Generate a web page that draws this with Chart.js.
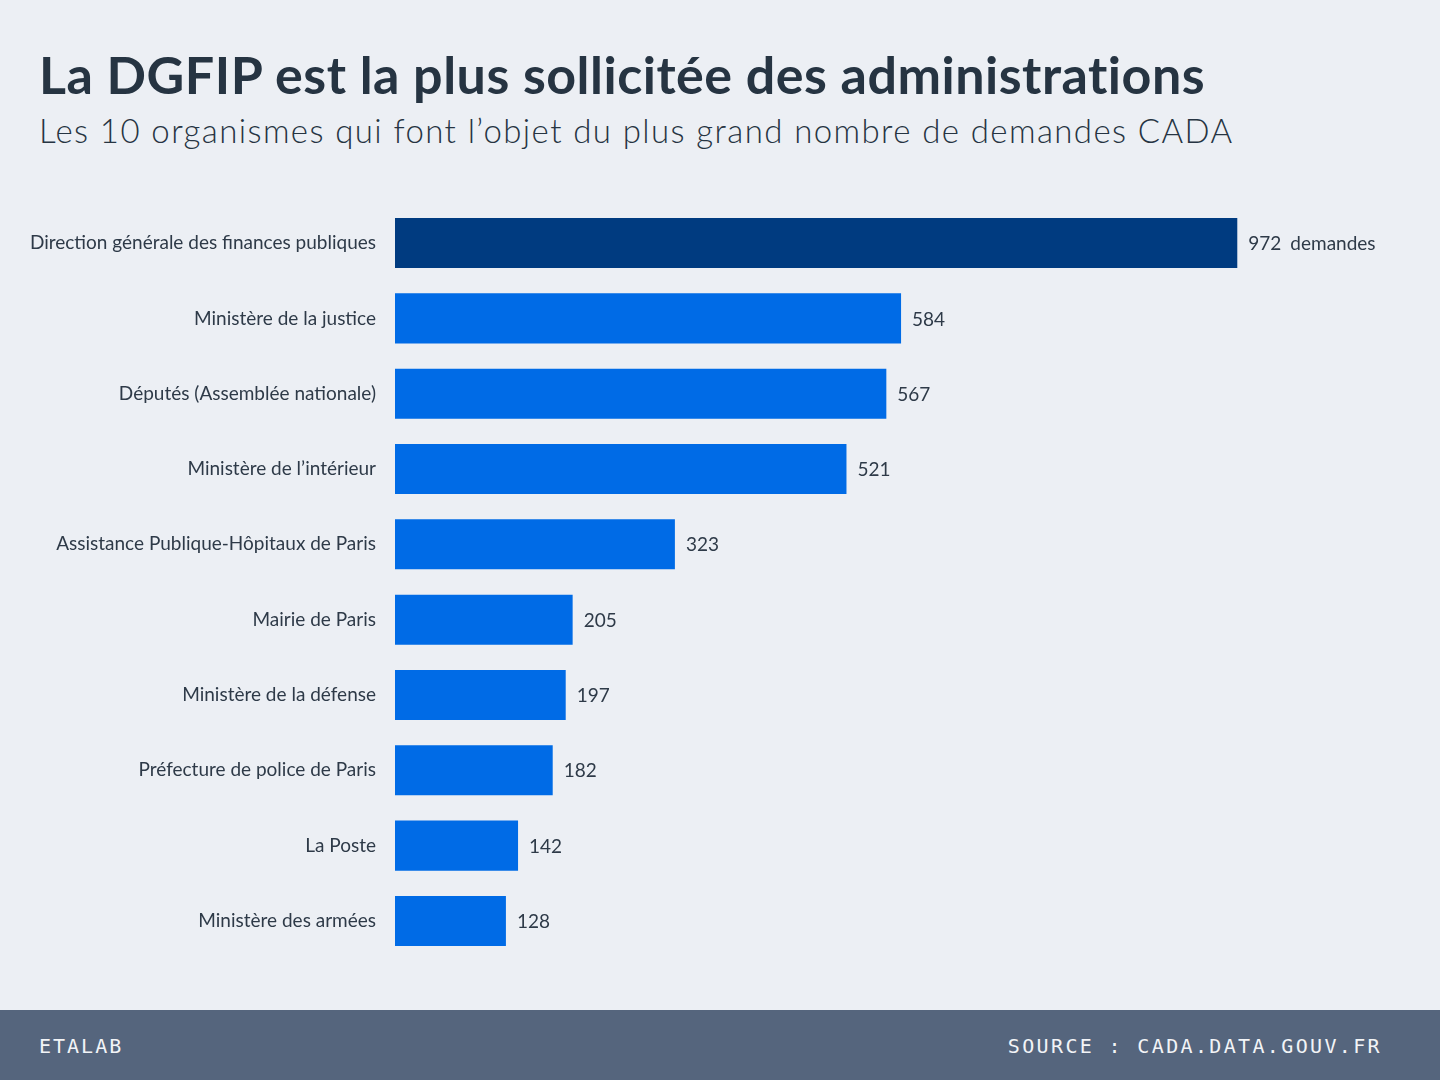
<!DOCTYPE html>
<html lang="fr">
<head>
<meta charset="utf-8">
<title>Demandes CADA par organisme</title>
<script src="https://cdn.jsdelivr.net/npm/chart.js@4"></script>
<style>
    html, body {
        margin: 0;
        padding: 0;
        width: 1440px;
        height: 1080px;
        background: #eceff4;
        overflow: hidden;
        font-family: Lato, "Noto Sans", sans-serif;
    }
    #title {
        position: absolute;
        left: 39px;
        top: 43px;
        font-size: 52px;
        font-weight: 700;
        letter-spacing: 0.5px;
        color: #263442;
        white-space: nowrap;
    }
    #subtitle {
        position: absolute;
        left: 39px;
        top: 110px;
        font-size: 33px;
        font-weight: 300;
        letter-spacing: 1.4px;
        color: #263442;
        white-space: nowrap;
    }
    #chartBox {
        position: absolute;
        left: 0;
        top: 175px;
        width: 1440px;
        height: 814px;
    }
    #footer {
        position: absolute;
        left: 0;
        top: 1010px;
        width: 1440px;
        height: 70px;
        background: #55657d;
        color: #f2f4f7;
        font-family: "DejaVu Sans Mono", monospace;
        font-size: 20px;
        letter-spacing: 2px;
    }
    #footer span {
        position: absolute;
        top: 24px;
    }
</style>
</head>
<body>

<div id="title">La DGFIP est la plus sollicitée des administrations</div>
<div id="subtitle">Les 10 organismes qui font l’objet du plus grand nombre de demandes CADA</div>

<div id="chartBox"><canvas id="barChart"></canvas></div>

<div id="footer">
    <span style="left: 39px;">ETALAB</span>
    <span style="right: 58px; letter-spacing: 2.35px;">SOURCE : CADA.DATA.GOUV.FR</span>
</div>

<script>
// Data
const organismes = [
    "Direction générale des finances publiques",
    "Ministère de la justice",
    "Députés (Assemblée nationale)",
    "Ministère de l’intérieur",
    "Assistance Publique-Hôpitaux de Paris",
    "Mairie de Paris",
    "Ministère de la défense",
    "Préfecture de police de Paris",
    "La Poste",
    "Ministère des armées"
];
const demandes = [972, 584, 567, 521, 323, 205, 197, 182, 142, 128];
const unitSuffix = "demandes";

const barColors = demandes.map((v, i) => i === 0 ? '#003b80' : '#006be6');

// Value labels at the end of each bar
const valueLabels = {
    id: 'valueLabels',
    afterDatasetsDraw(chart) {
        const ctx = chart.ctx;
        const meta = chart.getDatasetMeta(0);
        ctx.save();
        ctx.font = '19px Lato, "Noto Sans", sans-serif';
        ctx.fillStyle = '#2e3a48';
        ctx.textBaseline = 'middle';
        ctx.textAlign = 'left';
        meta.data.forEach((bar, i) => {
            const x = bar.x + 11;
            const y = bar.y + 1;
            const txt = String(demandes[i]);
            ctx.fillText(txt, x, y);
            if (i === 0) {
                const w = ctx.measureText(txt).width;
                ctx.fillText(unitSuffix, x + w + 9, y);
            }
        });
        ctx.restore();
    }
};

const ctx = document.getElementById('barChart').getContext('2d');
new Chart(ctx, {
    type: 'bar',
    data: {
        labels: organismes,
        datasets: [{
            data: demandes,
            backgroundColor: barColors,
            borderWidth: 0,
            barPercentage: 0.664,
            categoryPercentage: 1.0
        }]
    },
    options: {
        indexAxis: 'y',
        responsive: true,
        maintainAspectRatio: false,
        animation: false,
        layout: {
            padding: { top: 0, bottom: 0, left: 0, right: 45 }
        },
        scales: {
            x: {
                display: false,
                min: 0,
                max: 1154
            },
            y: {
                afterFit(scale) { scale.width = 395; },
                grid: { display: false, drawTicks: false },
                border: { display: false },
                ticks: {
                    padding: 19,
                    color: '#2e3a48',
                    font: { family: 'Lato, "Noto Sans", sans-serif', size: 19 }
                }
            }
        },
        plugins: {
            legend: { display: false },
            tooltip: { enabled: false }
        }
    },
    plugins: [valueLabels]
});
</script>
</body>
</html>
